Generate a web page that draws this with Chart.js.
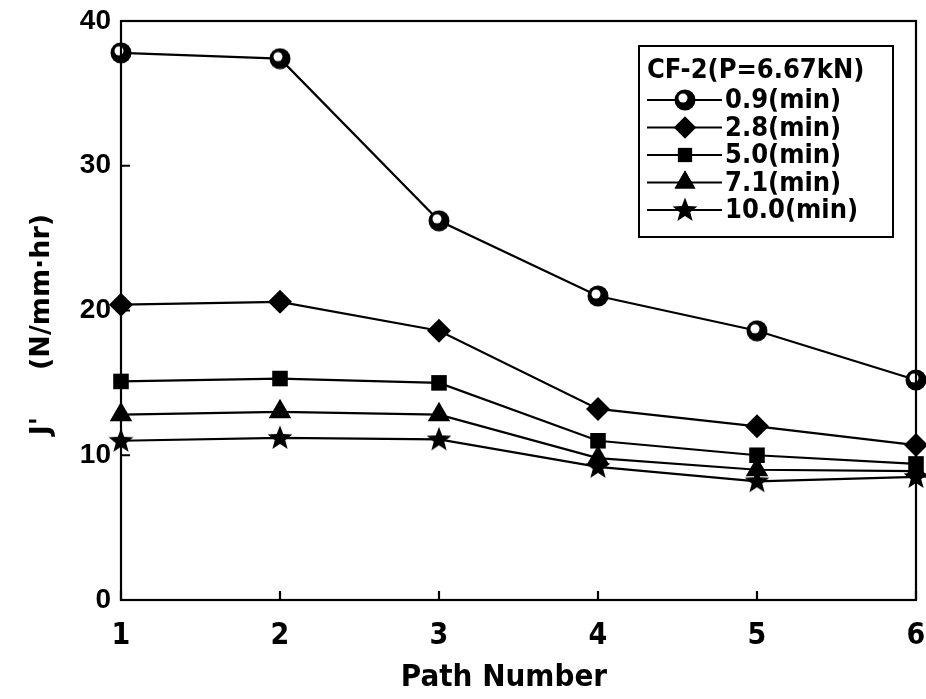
<!DOCTYPE html>
<html lang="en">
<head>
<meta charset="UTF-8">
<title>J' vs Path Number</title>
<script src="https://cdn.jsdelivr.net/npm/chart.js"></script>
<style>
    body { margin: 0; background: #fff; }
    #wrap { position: relative; width: 926px; height: 699px; }
</style>
</head>
<body>
<div id="wrap"><canvas id="chart" width="926" height="699"></canvas></div>
<script>
    // data
    const pathNumbers = [1, 2, 3, 4, 5, 6];
    const seriesLabels = ['0.9(min)', '2.8(min)', '5.0(min)', '7.1(min)', '10.0(min)'];
    const t09 = [37.8, 37.4, 26.2, 21.0, 18.6, 15.2];
    const t28 = [20.4, 20.6, 18.6, 13.2, 12.0, 10.7];
    const t50 = [15.1, 15.3, 15.0, 11.0, 10.0, 9.4];
    const t71 = [12.8, 13.0, 12.8, 9.8, 9.0, 8.9];
    const t100 = [11.0, 11.2, 11.1, 9.2, 8.2, 8.5];
    const yTicks = [0, 10, 20, 30, 40];
    const legendTitle = 'CF-2(P=6.67kN)';

    const narrow = "'DejaVu Sans Condensed', sans-serif";
    const arial = "'Liberation Sans', Arial, sans-serif";

    function circleMarker() {
        const c = document.createElement('canvas');
        c.width = 22; c.height = 22;
        const g = c.getContext('2d');
        g.fillStyle = '#000';
        g.beginPath(); g.arc(11, 11, 10.5, 0, Math.PI * 2); g.fill();
        g.fillStyle = '#fff';
        g.beginPath(); g.arc(9, 9, 4.5, 0, Math.PI * 2); g.fill();
        return c;
    }

    function starMarker() {
        const c = document.createElement('canvas');
        c.width = 26; c.height = 26;
        const g = c.getContext('2d');
        g.fillStyle = '#000';
        g.beginPath();
        for (let i = 0; i < 10; i++) {
            const r = i % 2 === 0 ? 13 : 5.5;
            const a = -Math.PI / 2 + i * Math.PI / 5;
            const x = 13 + r * Math.cos(a), y = 13.5 + r * Math.sin(a);
            if (i === 0) g.moveTo(x, y); else g.lineTo(x, y);
        }
        g.closePath(); g.fill();
        return c;
    }

    const styles = [
        { pointStyle: circleMarker(), radius: 11 },
        { pointStyle: 'rectRot', radius: 12 },
        { pointStyle: 'rect', radius: 11 },
        { pointStyle: 'triangle', radius: 13 },
        { pointStyle: starMarker(), radius: 13 }
    ];
    const values = [t09, t28, t50, t71, t100];

    const datasets = values.map((v, i) => ({
        label: seriesLabels[i],
        data: pathNumbers.map((x, j) => ({ x: x, y: v[j] })),
        borderColor: '#000',
        backgroundColor: '#000',
        borderWidth: 2.2,
        pointStyle: styles[i].pointStyle,
        pointRadius: styles[i].radius,
        pointBorderWidth: 0,
        pointBackgroundColor: '#000',
        tension: 0,
        clip: false
    }));

    // box frame + inward ticks
    const framePlugin = {
        id: 'frame',
        afterDatasetsDraw(chart) {
            const { ctx, chartArea: a, scales } = chart;
            ctx.save();
            ctx.strokeStyle = '#000';
            ctx.lineWidth = 2.2;
            ctx.strokeRect(a.left, a.top, a.right - a.left, a.bottom - a.top);
            ctx.beginPath();
            pathNumbers.forEach(p => {
                const x = scales.x.getPixelForValue(p);
                ctx.moveTo(x, a.bottom); ctx.lineTo(x, a.bottom - 9);
            });
            yTicks.forEach(t => {
                const y = scales.y.getPixelForValue(t);
                ctx.moveTo(a.left, y); ctx.lineTo(a.left + 9, y);
            });
            ctx.stroke();
            ctx.restore();
        }
    };

    // legend box inside the plot
    const legendPlugin = {
        id: 'boxLegend',
        afterDraw(chart) {
            const ctx = chart.ctx;
            const bx = 639, by = 46, bw = 254, bh = 191;
            ctx.save();
            ctx.fillStyle = '#fff';
            ctx.fillRect(bx, by, bw, bh);
            ctx.strokeStyle = '#000';
            ctx.lineWidth = 2;
            ctx.strokeRect(bx, by, bw, bh);
            ctx.fillStyle = '#000';
            ctx.font = 'bold 27px ' + narrow;
            ctx.textBaseline = 'middle';
            ctx.fillText(legendTitle, bx + 8, by + 25);
            chart.data.datasets.forEach((ds, i) => {
                const y = by + 54 + i * 27.5;
                ctx.beginPath();
                ctx.moveTo(bx + 8, y); ctx.lineTo(bx + 83, y);
                ctx.lineWidth = 2;
                ctx.stroke();
                const s = styles[i];
                Chart.helpers.drawPoint(ctx, { pointStyle: s.pointStyle, radius: s.radius - 1, borderWidth: 0, rotation: 0 }, bx + 46, y);
                ctx.fill();
                ctx.fillText(ds.label, bx + 86, y + 1);
            });
            ctx.restore();
        }
    };

    new Chart(document.getElementById('chart'), {
        type: 'line',
        data: { datasets: datasets },
        plugins: [framePlugin, legendPlugin],
        options: {
            responsive: false,
            animation: false,
            layout: { autoPadding: false, padding: { top: 21, right: 10, left: 0, bottom: 0 } },
            plugins: { legend: { display: false }, tooltip: { enabled: false } },
            scales: {
                x: {
                    type: 'linear',
                    min: 1, max: 6,
                    afterBuildTicks: s => { s.ticks = pathNumbers.map(v => ({ value: v })); },
                    afterFit: s => { s.height = 99; s.paddingLeft = 0; s.paddingRight = 0; },
                    grid: { display: false, drawTicks: false },
                    border: { display: false },
                    ticks: { color: '#000', padding: 18, font: { family: narrow, size: 30, weight: 'bold' } },
                    title: { display: true, text: 'Path Number   ', color: '#000', padding: { top: 0, bottom: 2 }, font: { family: narrow, size: 31, weight: 'bold' } }
                },
                y: {
                    min: 0, max: 40,
                    afterBuildTicks: s => { s.ticks = yTicks.map(v => ({ value: v })); },
                    afterFit: s => { s.width = 121; s.paddingTop = 0; s.paddingBottom = 0; },
                    grid: { display: false, drawTicks: false },
                    border: { display: false },
                    ticks: { color: '#000', padding: 10, font: { family: arial, size: 28, weight: 'bold' } },
                    title: { display: true, text: "J'     (N/mm·hr)   ", color: '#000', padding: { top: 26, bottom: 0 }, font: { family: "'DejaVu Sans', sans-serif", size: 27, weight: 'bold' } }
                }
            }
        }
    });
</script>
</body>
</html>
